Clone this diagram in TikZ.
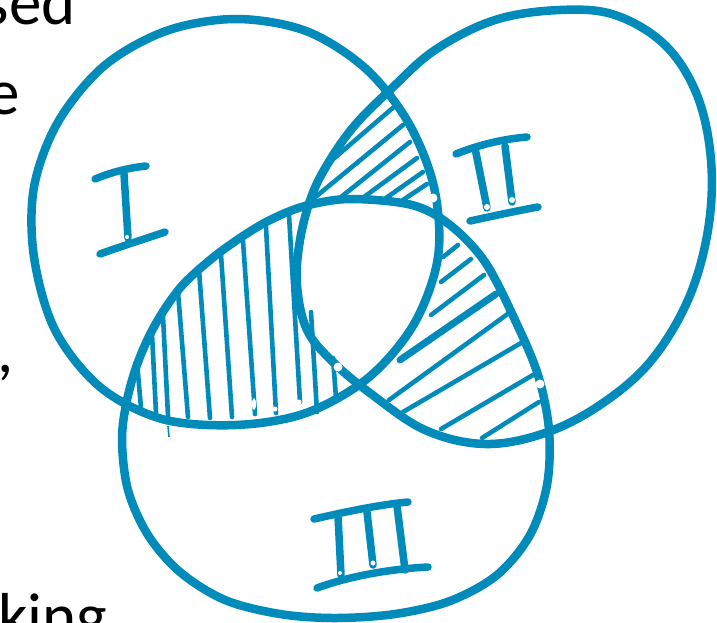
\documentclass[tikz,border=0pt]{standalone}
\usepackage{fontspec}
\setmainfont{Carlito}
\definecolor{vblue}{RGB}{0,139,186}
\tikzset{
  venn/.style={draw=vblue, line width=8.5pt},
  hatchline/.style={draw=vblue, line width=4.6pt, line cap=round},
  thickhatch/.style={draw=vblue, line width=7pt, line cap=round},
  numeral/.style={draw=vblue, line width=7.5pt, line cap=round},
  spot/.style={fill=white, draw=none},
  txt/.style={font=\fontsize{65}{78}\selectfont, inner sep=0pt, text=black}
}
\begin{document}
\begin{tikzpicture}[x=1pt,y=-1pt]
\useasboundingbox (0,0) rectangle (717,622);

% cut-off text at the left edge
\node[txt, anchor=base east] (t1) at (76,24) {sed};
\node[txt, anchor=base east] (t2) at (20,114) {e};
\node[txt, anchor=base east] (t3) at (14,372) {,};
\node[txt, anchor=base west] (t4) at (-2,638) {king};

% hatching: lens I and III (vertical)
\draw[hatchline] (137,362) -- (141,408);
\draw[hatchline] (152,334) -- (156,413);
\draw[hatchline] (163,316) -- (168,416);
\draw[hatchline] (178,292) -- (188,417);
\draw[hatchline] (199,270) -- (210,418);
\draw[hatchline] (221,255) -- (232,417);
\draw[hatchline] (243,241) -- (255,414);
\draw[hatchline] (266,227) -- (276,413);
\draw[hatchline] (289,215) -- (300,402);
\draw[hatchline] (311,312) -- (317,412);
\draw[hatchline] (333,358) -- (336,398);

% hatching: lens I and II (top)
\draw[hatchline] (395,106) -- (331,161);
\draw[hatchline] (403,125) -- (313,199);
\draw[hatchline] (410,142) -- (341,197);
\draw[hatchline] (417,158) -- (364,197);
\draw[hatchline] (423,172) -- (386,198);
\draw[hatchline] (427,184) -- (403,200);

% hatching: lens II and III (right)
\draw[hatchline] (458,245) -- (443,257);
\draw[hatchline] (471,259) -- (441,282);
\draw[hatchline] (484,275) -- (431,315);
\draw[thickhatch] (496,294) -- (400,360);
\draw[hatchline] (509,313) -- (389,400);
\draw[hatchline] (521,343) -- (403,412);
\draw[hatchline] (533,375) -- (441,429);
\draw[hatchline] (539,402) -- (482,438);

% the three sets
\draw[venn] plot[smooth cycle, tension=0.55] coordinates {
  (236,19) (306,31) (365,68) (408,122) (434,187) (438,257) (414,324)
  (368,378) (306,413) (236,425) (162,419) (100,387) (55,330) (34,257)
  (34,187) (58,122) (104,66) (166,31)};
\draw[venn] plot[smooth cycle, tension=0.6] coordinates {
  (560,10) (615,15) (665,45) (697,95) (711,160) (708,230) (688,300)
  (650,362) (600,405) (545,433) (485,444) (425,430) (370,393) (333,362)
  (307,330) (297,285) (300,240) (312,195) (330,160) (355,125) (390,90)
  (435,50) (495,20)};
\draw[venn] plot[smooth cycle, tension=0.55] coordinates {
  (350,199) (412,205) (450,225) (485,262) (515,320) (538,375) (549,430)
  (547,485) (530,535) (497,575) (450,601) (395,614) (335,618) (280,614)
  (225,600) (180,572) (148,535) (128,490) (122,440) (127,400) (138,362)
  (155,325) (180,288) (210,260) (240,238) (270,220) (305,206)};

% numeral I
\draw[numeral] (95,179) .. controls (112,172) and (128,168) .. (146,166);
\draw[numeral] (124,174) -- (128,238);
\draw[numeral] (100,254) .. controls (122,246) and (145,239) .. (165,232);
% numeral II
\draw[numeral] (456,154) .. controls (478,145) and (503,139) .. (527,137);
\draw[numeral] (475,148) -- (487,208);
\draw[numeral] (505,146) -- (512,202);
\draw[numeral] (470,221) .. controls (493,216) and (516,211) .. (538,207);
% numeral III
\draw[numeral] (314,519) .. controls (345,512) and (377,505) .. (408,502);
\draw[numeral] (338,516) -- (341,575);
\draw[numeral] (367,512) -- (373,565);
\draw[numeral] (397,506) -- (405,570);
\draw[numeral] (317,588) .. controls (350,576) and (390,569) .. (428,567);

% small white marks
\fill[spot] (433,198) circle[radius=4.5pt];
\fill[spot] (540,384) circle[radius=4.5pt];
\fill[spot] (338,367) circle[radius=4.5pt];
\fill[spot] (127,237) circle[radius=2pt];
\fill[spot] (487,207) circle[radius=3pt];
\fill[spot] (512,200) circle[radius=3pt];
\fill[spot] (340,573) circle[radius=2pt];
\fill[spot] (373,563) circle[radius=2.5pt];
\fill[spot] (254,404) ellipse[x radius=2pt, y radius=6pt];
\fill[spot] (275,409) circle[radius=2.5pt];
\fill[spot] (299,402) circle[radius=2.5pt];
\draw[white, line width=4pt, line cap=round] (168,428) -- (169,437);
\draw[vblue, line width=1.6pt] (168,426) -- (169,437);
\end{tikzpicture}
\end{document}
